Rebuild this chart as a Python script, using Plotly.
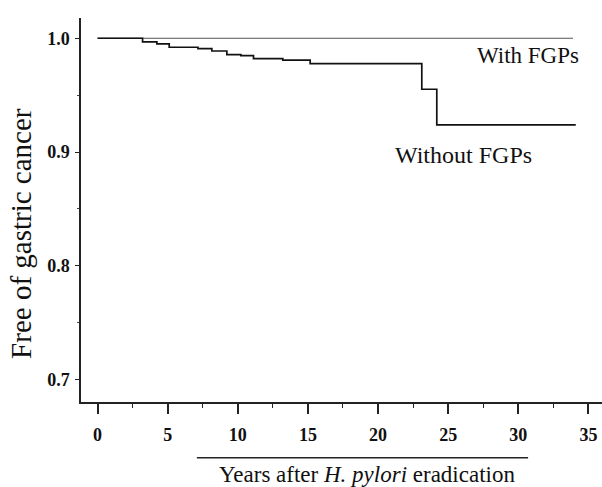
import plotly.graph_objects as go

# Data
with_t = [0, 33.9]
with_s = [1.0, 1.0]

without_t = [0, 3.21, 4.23, 5.11, 7.16, 8.15, 9.22, 10.22, 11.12, 13.21, 15.16, 23.12, 24.19, 34.1]
without_s = [1.0, 0.9968, 0.995, 0.9921, 0.9909, 0.9888, 0.9856, 0.9847, 0.9821, 0.9807, 0.9777, 0.9552, 0.9239, 0.9239]

x_ticks = [0, 5, 10, 15, 20, 25, 30, 35]
y_ticks = [0.7, 0.8, 0.9, 1.0]
y_ticklabels = ["0.7", "0.8", "0.9", "1.0"]

FONT = "Liberation Serif, Times New Roman, serif"

fig = go.Figure()
fig.add_trace(go.Scatter(x=with_t, y=with_s, mode="lines", line=dict(color="#555555", width=1.2),
                         line_shape="hv", showlegend=False, hoverinfo="skip"))
fig.add_trace(go.Scatter(x=without_t, y=without_s, mode="lines", line=dict(color="#111111", width=1.7),
                         line_shape="hv", showlegend=False, hoverinfo="skip"))

fig.update_layout(
    width=602, height=487,
    margin=dict(l=81, r=0, t=18, b=85, autoexpand=False),
    paper_bgcolor="white", plot_bgcolor="white",
    font=dict(family=FONT, color="#111111"),
    xaxis=dict(range=[-1.18, 35.97], tickvals=x_ticks, ticks="outside", ticklen=10, tickwidth=1.5,
               tickcolor="#222", showline=True, linecolor="#222", linewidth=1.5, showgrid=False,
               zeroline=False, tickfont=dict(family=FONT, size=18, color="#111", weight="bold"),
               ticklabelstandoff=6, automargin=False, ticklabeloverflow="allow",
               minor=dict(dtick=2.5, tick0=0, ticks="outside", ticklen=4, tickwidth=1.2, tickcolor="#222",
                          showgrid=False)),
    yaxis=dict(range=[0.6804, 1.0178], tickvals=y_ticks, ticktext=y_ticklabels, ticks="outside",
               ticklen=4, tickwidth=1.2, tickcolor="#222", showline=True, linecolor="#222", linewidth=1.5,
               showgrid=False, zeroline=False, tickfont=dict(family=FONT, size=18, color="#111", weight="bold"),
               ticklabelstandoff=2, automargin=False,
               minor=dict(dtick=0.05, tick0=0.7, ticks="outside", ticklen=2, tickwidth=1, tickcolor="#444",
                          showgrid=False)),
)

# Curve labels
fig.add_annotation(x=30.7, y=0.9845, xref="x", yref="y", text="With FGPs", showarrow=False,
                   font=dict(family=FONT, size=23, color="#111"), xanchor="center", yanchor="middle")
fig.add_annotation(x=26.1, y=0.8976, xref="x", yref="y", text="Without FGPs", showarrow=False,
                   font=dict(family=FONT, size=24, color="#111"), xanchor="center", yanchor="middle")

# Axis titles
fig.add_annotation(x=0.548, y=-0.189, xref="paper", yref="paper",
                   text="Years after <i>H. pylori</i> eradication", showarrow=False,
                   font=dict(family=FONT, size=23, color="#111"), xanchor="center", yanchor="middle")
fig.add_annotation(x=-0.115, y=0.438, xref="paper", yref="paper", text="Free of gastric cancer",
                   textangle=-90, showarrow=False, font=dict(family=FONT, size=29, color="#111"),
                   xanchor="center", yanchor="middle")

# Decorative line above x-axis title
fig.add_shape(type="line", xref="x", yref="paper", x0=7.08, x1=30.7, y0=-0.145, y1=-0.145,
              line=dict(color="#222", width=1.5))

fig.write_html("out.html", config={"displayModeBar": False},
               post_script="document.body.style.margin='0';document.body.style.overflow='hidden';")
